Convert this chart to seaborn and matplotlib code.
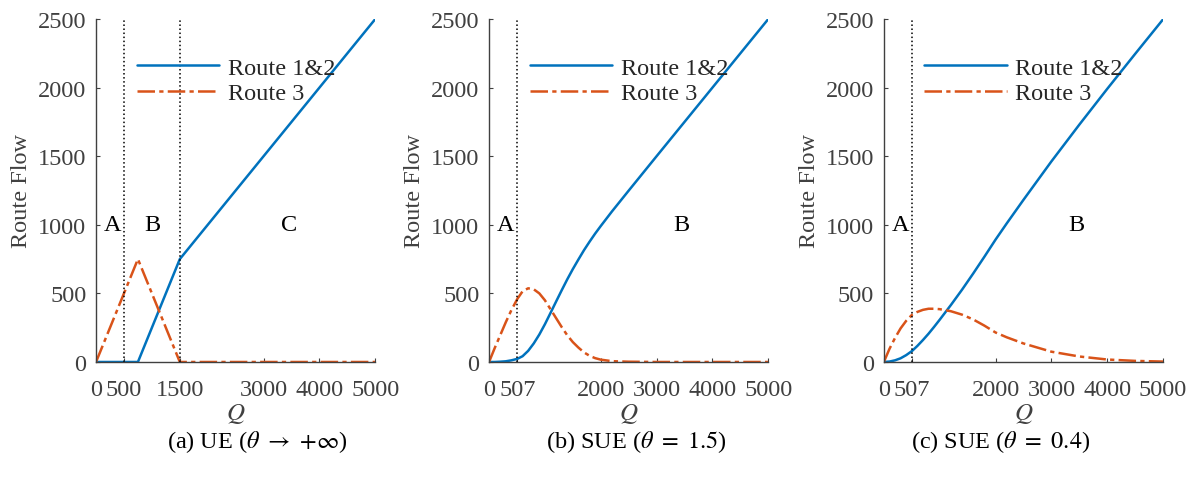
import seaborn as sns
import matplotlib.pyplot as plt

# (a) UE
q_ue = [0, 750, 1500, 5000]
ue_route12 = [0, 0, 750, 2500]
ue_route3 = [0, 750, 0, 0]

# (b) SUE theta = 1.5
q_b = [0, 100, 200, 300, 400, 507, 600, 700, 800, 900, 1000, 1100, 1200, 1300,
       1400, 1500, 1600, 1700, 1800, 1900, 2000, 2200, 2500, 3000, 4000, 5000]
b_route12 = [0, 0, 2, 5, 12, 23, 42, 81, 135, 200, 275, 357, 440, 522,
             602, 677, 747, 815, 877, 936, 991, 1097, 1249, 1500, 2000, 2500]
b_route3 = [0, 100, 195, 290, 378, 460, 515, 537, 530, 500, 450, 385, 320, 255,
            195, 145, 105, 70, 45, 28, 17, 6, 2, 0, 0, 0]

# (c) SUE theta = 0.4
q_c = [0, 100, 200, 300, 400, 507, 600, 700, 800, 900, 1000, 1200, 1400, 1600,
       1800, 2000, 2200, 2500, 3000, 3500, 4000, 4500, 5000]
c_route12 = [0, 3, 12, 27, 50, 81, 117, 160, 206, 256, 308, 415, 527, 645,
             767, 892, 1010, 1182, 1462, 1730, 1991, 2246, 2498]
c_route3 = [0, 95, 175, 245, 300, 345, 365, 380, 388, 388, 385, 370, 345, 310,
            265, 215, 180, 135, 75, 40, 18, 8, 3]

panels = [
    dict(q=q_ue, r12=ue_route12, r3=ue_route3, vlines=[500, 1500],
         xticks=[0, 500, 1500, 3000, 4000, 5000],
         regions=[('A', 300), ('B', 1000), ('C', 3450)],
         caption=r'(a) UE ($\theta$ $\rightarrow$ $+\infty$)', cx=0.215),
    dict(q=q_b, r12=b_route12, r3=b_route3, vlines=[507],
         xticks=[0, 507, 2000, 3000, 4000, 5000],
         regions=[('A', 300), ('B', 3450)],
         caption=r'(b) SUE ($\theta\ =\ 1.5$)', cx=0.532),
    dict(q=q_c, r12=c_route12, r3=c_route3, vlines=[507],
         xticks=[0, 507, 2000, 3000, 4000, 5000],
         regions=[('A', 300), ('B', 3450)],
         caption=r'(c) SUE ($\theta\ =\ 0.4$)', cx=0.837),
]

sns.set_style('ticks')
plt.rcParams['font.family'] = ['Liberation Serif', 'DejaVu Serif']
plt.rcParams['mathtext.fontset'] = 'stix'

blue = '#0072BD'
orange = '#D95319'
gray = '#404040'

fig = plt.figure(figsize=(11.96, 4.89), dpi=100)
lefts = [0.0803, 0.4089, 0.739]

for left, p in zip(lefts, panels):
    ax = fig.add_axes([left, 0.2577, 0.2335, 0.7014])
    sns.lineplot(x=p['q'], y=p['r12'], ax=ax, color=blue, lw=1.8,
                 estimator=None, sort=False, label='Route 1&2')
    sns.lineplot(x=p['q'], y=p['r3'], ax=ax, color=orange, lw=1.8,
                 estimator=None, sort=False, label='Route 3')
    ax.lines[-1].set_linestyle((0, (7, 1.7, 1.7, 1.7)))
    for v in p['vlines']:
        ax.axvline(v, color='k', ls=':', lw=1.1)
    for txt, xq in p['regions']:
        ax.text(xq, 1000, txt, ha='center', va='center', fontsize=17.5, color='k')

    ax.set_xlim(0, 5000)
    ax.set_ylim(0, 2500)
    ax.set_xticks(p['xticks'])
    ax.set_yticks([0, 500, 1000, 1500, 2000, 2500])
    ax.tick_params(direction='in', length=3, labelsize=17.5, colors=gray,
                   labelcolor=gray)
    ax.tick_params(axis='x', pad=12)
    ax.tick_params(axis='y', pad=7)
    for s in ['left', 'bottom']:
        ax.spines[s].set_color(gray)
        ax.spines[s].set_linewidth(1.0)
    sns.despine(ax=ax)
    ax.set_xlabel('$Q$', fontsize=18, color=gray, labelpad=1)
    ax.set_ylabel('Route Flow', fontsize=17.5, color=gray, labelpad=4)

    h, l = ax.get_legend_handles_labels()
    ax.legend(h, l, frameon=False, loc='upper left', bbox_to_anchor=(0.145, 0.89),
              fontsize=17.5, handlelength=3.4, handletextpad=0.35,
              labelspacing=0.15, borderpad=0, borderaxespad=0)

    fig.text(p['cx'], 0.097, p['caption'], ha='center', va='center', fontsize=17.5,
             color='k')

fig.savefig('out.png', dpi=100)
